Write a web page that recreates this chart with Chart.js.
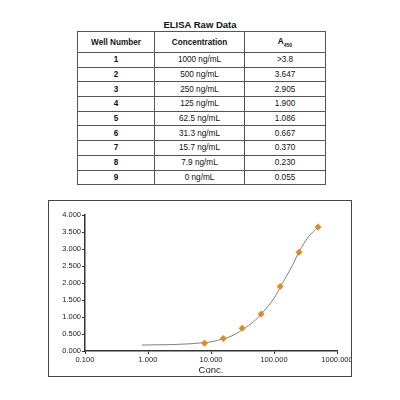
<!DOCTYPE html>
<html>
<head>
<meta charset="utf-8">
<script src="https://cdn.jsdelivr.net/npm/chart.js@4.4.1/dist/chart.umd.min.js"></script>
<style>
    body { margin: 0; background: #fff; font-family: "Liberation Sans", Arial, sans-serif; }
    #title { position: absolute; left: 77px; top: 19px; width: 246px; text-align: center;
        font-weight: bold; font-size: 9.5px; color: #111; }
    #tbl { position: absolute; left: 77px; top: 31px; border-collapse: collapse;
        font-size: 8.2px; color: #111; border: 1.5px solid #444; }
    #tbl td, #tbl th { border: 1px solid #555; text-align: center; padding: 0; height: 13.7px; }
    #tbl th { height: 20px; font-weight: bold; }
    #tbl td.num { font-weight: bold; }
    #box { position: absolute; left: 48px; top: 200px; width: 302px; height: 175px;
        border: 1.5px solid #444; }
</style>
</head>
<body>
<div id="title">ELISA Raw Data</div>
<table id="tbl">
    <thead><tr>
        <th style="width:76px">Well Number</th>
        <th style="width:89px">Concentration</th>
        <th style="width:80px">A<sub style="font-size:5px">450</sub></th>
    </tr></thead>
    <tbody id="rows"></tbody>
</table>
<div id="box"><canvas id="chart" width="302" height="175"></canvas></div>

<script>
// table values
wells = [1, 2, 3, 4, 5, 6, 7, 8, 9]
concLabels = ["1000 ng/mL", "500 ng/mL", "250 ng/mL", "125 ng/mL", "62.5 ng/mL",
    "31.3 ng/mL", "15.7 ng/mL", "7.9 ng/mL", "0 ng/mL"]
absLabels = [">3.8", "3.647", "2.905", "1.900", "1.086", "0.667", "0.370", "0.230", "0.055"]

// plotted standards
conc = [500, 250, 125, 62.5, 31.3, 15.7, 7.9]
absorb = [3.647, 2.905, 1.900, 1.086, 0.667, 0.370, 0.230]

// fitted curve
curveX = [0.8, 1, 2, 3, 5, 7.9, 10, 15.7, 20, 31.3, 50, 62.5, 100, 125, 200, 250, 350, 500]
curveY = [0.175, 0.178, 0.185, 0.195, 0.215, 0.25, 0.27, 0.36, 0.42, 0.62, 0.90, 1.08, 1.55, 1.87, 2.55, 2.92, 3.35, 3.65]

xTicks = [0.1, 1, 10, 100, 1000]
xTickLabels = ["0.100", "1.000", "10.000", "100.000", "1000.000"]

var rows = document.getElementById("rows");
for (var i = 0; i < wells.length; i++) {
    var tr = document.createElement("tr");
    tr.innerHTML = '<td class="num">' + wells[i] + '</td><td>' + concLabels[i] + '</td><td>' + absLabels[i] + '</td>';
    rows.appendChild(tr);
}

var pts = conc.map(function (c, i) { return {x: c, y: absorb[i]}; });
var curve = curveX.map(function (c, i) { return {x: c, y: curveY[i]}; });

var tickFont = {family: "'Liberation Sans', Arial, sans-serif", size: 7.5};

new Chart(document.getElementById("chart"), {
    data: {
        datasets: [{
            type: 'scatter',
            data: pts,
            order: 0,
            pointStyle: 'rectRot',
            pointRadius: 3.5,
            backgroundColor: "#E08A22",
            borderColor: "#E08A22",
            borderWidth: 0
        }, {
            type: 'line',
            data: curve,
            order: 1,
            pointRadius: 0,
            borderColor: "#808080",
            borderWidth: 1,
            cubicInterpolationMode: 'monotone',
            fill: false
        }]
    },
    options: {
        responsive: false,
        animation: false,
        layout: {
            padding: {top: 14, right: 14, left: 0, bottom: 0}
        },
        scales: {
            x: {
                type: 'logarithmic',
                min: 0.1,
                max: 1000,
                afterBuildTicks: function (scale) {
                    scale.ticks = xTicks.map(function (v) { return {value: v}; });
                },
                afterFit: function (scale) {
                    scale.height = 25;
                    scale.paddingLeft = 0;
                    scale.paddingRight = 0;
                },
                ticks: {
                    autoSkip: false,
                    maxRotation: 0,
                    padding: 1,
                    color: "#222",
                    font: tickFont,
                    callback: function (v) {
                        var k = xTicks.indexOf(v);
                        return k >= 0 ? xTickLabels[k] : '';
                    }
                },
                grid: {drawOnChartArea: false, tickLength: 3, color: "#333"},
                border: {color: "#333", width: 1.5},
                title: {
                    display: true,
                    text: "Conc.",
                    color: "#222",
                    font: {family: "'Liberation Sans', Arial, sans-serif", size: 9.5},
                    padding: {top: 0, bottom: 0}
                }
            },
            y: {
                min: 0,
                max: 4,
                afterFit: function (scale) {
                    scale.width = 36;
                },
                ticks: {
                    stepSize: 0.5,
                    padding: 1,
                    color: "#222",
                    font: tickFont,
                    callback: function (v) { return v.toFixed(3); }
                },
                grid: {drawOnChartArea: false, tickLength: 3, color: "#333"},
                border: {color: "#333", width: 1.5}
            }
        },
        plugins: {
            legend: {display: false},
            tooltip: {enabled: false}
        }
    }
});
</script>
</body>
</html>
